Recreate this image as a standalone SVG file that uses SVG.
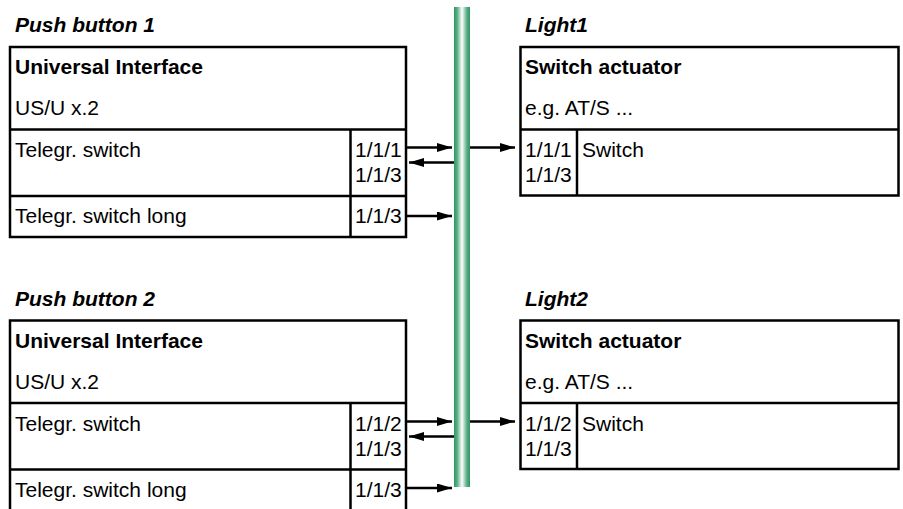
<svg xmlns="http://www.w3.org/2000/svg" width="903" height="509" viewBox="0 0 903 509">
  <defs>
    <linearGradient id="busGrad" x1="0" y1="0" x2="1" y2="0">
      <stop offset="0" stop-color="#2f9563"/>
      <stop offset="0.2" stop-color="#5aae85"/>
      <stop offset="0.5" stop-color="#ffffff"/>
      <stop offset="0.8" stop-color="#5aae85"/>
      <stop offset="1" stop-color="#2f9563"/>
    </linearGradient>
    <marker id="ah" markerUnits="userSpaceOnUse" markerWidth="16" markerHeight="10" refX="15" refY="4.5" orient="auto">
      <path d="M0,0 L15,4.5 L0,9 z" fill="#000"/>
    </marker>
  </defs>
  <style>
    .box { fill: #fff; stroke: #000; stroke-width: 2.5; }
    .ln { stroke: #000; stroke-width: 2.5; fill: none; }
    .t { font-family: "Liberation Sans", Arial, sans-serif; font-size: 21px; fill: #000; }
    .b { font-weight: bold; }
    .ti { font-weight: bold; font-style: italic; }
    .arr { stroke: #000; stroke-width: 2.5; fill: none; marker-end: url(#ah); }
  </style>

  <rect id="bus" x="454" y="7" width="16" height="480" fill="url(#busGrad)"/>

  <g id="pushbutton1">
    <text class="t ti" x="15" y="32">Push button 1</text>
    <rect class="box" x="10" y="47" width="396" height="190"/>
    <line class="ln" x1="10" y1="129.5" x2="406" y2="129.5"/>
    <line class="ln" x1="10" y1="196" x2="406" y2="196"/>
    <line class="ln" x1="350.5" y1="129.5" x2="350.5" y2="237"/>
    <text class="t b" x="15" y="74">Universal Interface</text>
    <text class="t" x="15" y="115">US/U x.2</text>
    <text class="t" x="15" y="157">Telegr. switch</text>
    <text class="t" x="355" y="157">1/1/1</text>
    <text class="t" x="355" y="182">1/1/3</text>
    <text class="t" x="15" y="223">Telegr. switch long</text>
    <text class="t" x="355" y="223">1/1/3</text>
  </g>

  <g id="light1">
    <text class="t ti" x="525" y="32">Light1</text>
    <rect class="box" x="520.5" y="47" width="378" height="148.5"/>
    <line class="ln" x1="520.5" y1="129.5" x2="898.5" y2="129.5"/>
    <line class="ln" x1="577" y1="129.5" x2="577" y2="195.5"/>
    <text class="t b" x="525" y="74">Switch actuator</text>
    <text class="t" x="525" y="115">e.g. AT/S ...</text>
    <text class="t" x="525" y="157">1/1/1</text>
    <text class="t" x="525" y="182">1/1/3</text>
    <text class="t" x="582" y="157">Switch</text>
  </g>

  <g id="pushbutton2">
    <text class="t ti" x="15" y="306">Push button 2</text>
    <rect class="box" x="10" y="320.5" width="396" height="190"/>
    <line class="ln" x1="10" y1="403" x2="406" y2="403"/>
    <line class="ln" x1="10" y1="469.5" x2="406" y2="469.5"/>
    <line class="ln" x1="350.5" y1="403" x2="350.5" y2="510.5"/>
    <text class="t b" x="15" y="347.5">Universal Interface</text>
    <text class="t" x="15" y="388.5">US/U x.2</text>
    <text class="t" x="15" y="430.5">Telegr. switch</text>
    <text class="t" x="355" y="430.5">1/1/2</text>
    <text class="t" x="355" y="455.5">1/1/3</text>
    <text class="t" x="15" y="496.5">Telegr. switch long</text>
    <text class="t" x="355" y="496.5">1/1/3</text>
  </g>

  <g id="light2">
    <text class="t ti" x="525" y="305.5">Light2</text>
    <rect class="box" x="520.5" y="320.5" width="378" height="148.5"/>
    <line class="ln" x1="520.5" y1="403" x2="898.5" y2="403"/>
    <line class="ln" x1="577" y1="403" x2="577" y2="469"/>
    <text class="t b" x="525" y="347.5">Switch actuator</text>
    <text class="t" x="525" y="388.5">e.g. AT/S ...</text>
    <text class="t" x="525" y="430.5">1/1/2</text>
    <text class="t" x="525" y="455.5">1/1/3</text>
    <text class="t" x="582" y="430.5">Switch</text>
  </g>

  <g id="connectors">
    <line class="arr" x1="407" y1="147.5" x2="452" y2="147.5"/>
    <line class="arr" x1="454" y1="162.5" x2="409" y2="162.5"/>
    <line class="arr" x1="407" y1="216" x2="452" y2="216"/>
    <line class="arr" x1="470" y1="147.5" x2="515" y2="147.5"/>
    <line class="arr" x1="407" y1="421.5" x2="452" y2="421.5"/>
    <line class="arr" x1="454" y1="436.5" x2="409" y2="436.5"/>
    <line class="arr" x1="407" y1="488" x2="452" y2="488"/>
    <line class="arr" x1="470" y1="421.5" x2="515" y2="421.5"/>
  </g>
</svg>
